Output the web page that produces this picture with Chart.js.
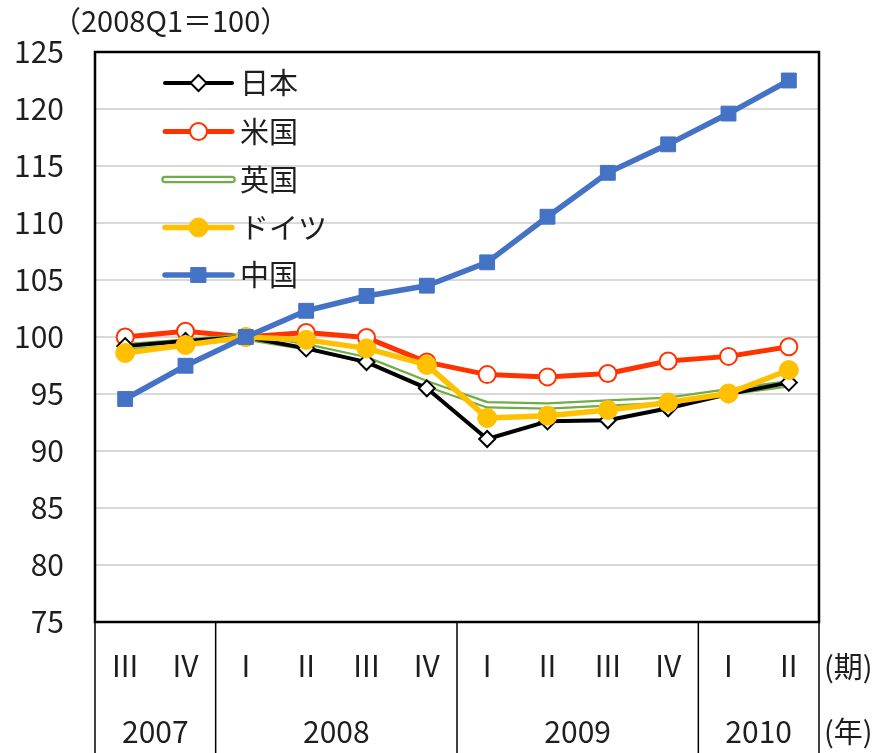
<!DOCTYPE html>
<html>
<head>
<meta charset="utf-8">
<script src="https://cdn.jsdelivr.net/npm/chart.js@4"></script>
<style>
  html, body { margin: 0; padding: 0; background: #fff; }
  canvas { display: block; }
</style>
</head>
<body>
<canvas id="chart" width="878" height="753"></canvas>
<script>
// quarters (x axis) and the year row under them
const quarters = ['III', 'IV', 'I', 'II', 'III', 'IV', 'I', 'II', 'III', 'IV', 'I', 'II'];
const years = ['2007', '2008', '2009', '2010'];
const yearSpans = [2, 4, 4, 2];

// 2008Q1 = 100
const japan   = [99.2, 99.65, 100, 99.0, 97.8, 95.5, 91.05, 92.6, 92.7, 93.75, 95.0, 96.0];
const usa     = [100.0, 100.5, 100, 100.4, 99.95, 97.8, 96.7, 96.5, 96.8, 97.9, 98.3, 99.15];
const uk      = [99.15, 99.55, 100, 99.15, 98.0, 95.9, 94.05, 93.95, 94.2, 94.45, 95.2, 95.9];
const germany = [98.6, 99.3, 100, 99.75, 99.0, 97.55, 92.9, 93.1, 93.6, 94.25, 95.05, 97.1];
const china   = [94.56, 97.48, 100, 102.3, 103.6, 104.5, 106.55, 110.55, 114.4, 116.9, 119.6, 122.5];

const yMin = 75, yMax = 125, yStep = 5;
const unitLabel = '（2008Q1＝100）';

const NUM_FONT = "'Liberation Sans Narrow', 'Noto Sans CJK JP', sans-serif";
const JP_FONT = "'Noto Sans CJK JP', sans-serif";
const TEXT = '#1e1e1e';

// legend entries, in the order shown in the picture
const legendItems = [
  { label: '日本', ds: 0 },
  { label: '米国', ds: 1 },
  { label: '英国', ds: 2, inner: 3 },
  { label: 'ドイツ', ds: 4 },
  { label: '中国', ds: 5 }
];

const framePlugin = {
  id: 'frame',
  afterDraw(chart) {
    const { ctx, chartArea: a } = chart;
    const xs = chart.scales.x;
    const H = chart.height;
    ctx.save();

    // unit label
    ctx.fillStyle = TEXT;
    ctx.font = '29px ' + NUM_FONT;
    ctx.textAlign = 'left';
    ctx.textBaseline = 'middle';
    ctx.fillText(unitLabel, 52, 21);

    // plot frame
    ctx.strokeStyle = '#000';
    ctx.lineWidth = 2.5;
    ctx.strokeRect(a.left, a.top, a.right - a.left, a.bottom - a.top);

    // year separators and year labels
    ctx.lineWidth = 1.5;
    const step = xs.getPixelForValue(1) - xs.getPixelForValue(0);
    let idx = 0;
    const edges = [a.left];
    yearSpans.forEach(n => {
      idx += n;
      edges.push(xs.getPixelForValue(idx - 1) + step / 2);
    });
    edges[edges.length - 1] = a.right;
    edges.forEach(x => {
      ctx.beginPath();
      ctx.moveTo(x, a.bottom);
      ctx.lineTo(x, H);
      ctx.stroke();
    });
    ctx.font = '30px ' + NUM_FONT;
    ctx.textAlign = 'center';
    years.forEach((y, i) => {
      ctx.fillText(y, (edges[i] + edges[i + 1]) / 2, a.bottom + 110);
    });

    // row captions
    ctx.font = '29px ' + JP_FONT;
    ctx.textAlign = 'left';
    ctx.fillText('(期)', a.right + 5, a.bottom + 45);
    ctx.fillText('(年)', a.right + 5, a.bottom + 110);

    // legend
    const lx0 = 165, lx1 = 232, mx = 198.5, tx = 240;
    const rowY = [83, 131.5, 179.5, 227.5, 275];
    legendItems.forEach((it, i) => {
      const ds = chart.data.datasets[it.ds];
      const y = rowY[i];
      ctx.lineCap = 'round';
      ctx.strokeStyle = ds.borderColor;
      ctx.lineWidth = ds.borderWidth;
      ctx.beginPath();
      ctx.moveTo(lx0, y);
      ctx.lineTo(lx1, y);
      ctx.stroke();
      if (it.inner !== undefined) {
        const ids = chart.data.datasets[it.inner];
        ctx.strokeStyle = ids.borderColor;
        ctx.lineWidth = ids.borderWidth;
        ctx.beginPath();
        ctx.moveTo(lx0, y);
        ctx.lineTo(lx1, y);
        ctx.stroke();
      }
      if (ds.pointRadius > 0) {
        ctx.fillStyle = ds.pointBackgroundColor;
        ctx.strokeStyle = ds.pointBorderColor;
        ctx.lineWidth = ds.pointBorderWidth;
        Chart.helpers.drawPoint(ctx, {
          pointStyle: ds.pointStyle, radius: ds.pointRadius,
          rotation: 0, borderWidth: ds.pointBorderWidth
        }, mx, y);
      }
      ctx.fillStyle = TEXT;
      ctx.font = '29px ' + JP_FONT;
      ctx.textAlign = 'left';
      ctx.textBaseline = 'middle';
      ctx.fillText(it.label, tx, y);
    });
    ctx.restore();
  }
};

new Chart(document.getElementById('chart'), {
  type: 'line',
  data: {
    labels: quarters,
    datasets: [
      {
        label: '日本', data: japan, order: 2,
        borderColor: '#000000', borderWidth: 4,
        pointStyle: 'rectRot', pointRadius: 8,
        pointBackgroundColor: '#ffffff', pointBorderColor: '#000000', pointBorderWidth: 2
      },
      {
        label: '米国', data: usa, order: 5,
        borderColor: '#FF3300', borderWidth: 5,
        pointStyle: 'circle', pointRadius: 8.5,
        pointBackgroundColor: '#ffffff', pointBorderColor: '#FF3300', pointBorderWidth: 2
      },
      {
        label: '英国', data: uk, order: 4,
        borderColor: '#70AD47', borderWidth: 7.5, pointRadius: 0
      },
      {
        label: '英国 inner', data: uk, order: 3,
        borderColor: '#ffffff', borderWidth: 3, pointRadius: 0
      },
      {
        label: 'ドイツ', data: germany, order: 1,
        borderColor: '#FFC000', borderWidth: 5.5,
        pointStyle: 'circle', pointRadius: 9.5,
        pointBackgroundColor: '#FFC000', pointBorderColor: '#FFC000', pointBorderWidth: 1
      },
      {
        label: '中国', data: china, order: 0,
        borderColor: '#4472C4', borderWidth: 5.5,
        pointStyle: 'rect', pointRadius: 10.5,
        pointBackgroundColor: '#4472C4', pointBorderColor: '#4472C4', pointBorderWidth: 1
      }
    ]
  },
  options: {
    responsive: false,
    animation: false,
    layout: { padding: { top: 52, right: 59, left: 0, bottom: 0 } },
    elements: { line: { tension: 0, borderCapStyle: 'round', borderJoinStyle: 'round' } },
    scales: {
      x: {
        type: 'category',
        offset: true,
        grid: { display: false, drawTicks: false },
        border: { display: false },
        ticks: {
          color: TEXT, padding: 26, maxRotation: 0, autoSkip: false,
          font: { family: NUM_FONT, size: 30 }
        },
        afterFit: s => { s.height = 131; }
      },
      y: {
        min: yMin, max: yMax,
        border: { display: false },
        grid: {
          drawTicks: false, lineWidth: 2,
          color: c => (c.tick && (c.tick.value === yMin || c.tick.value === yMax)) ? 'rgba(0,0,0,0)' : '#D9D9D9'
        },
        ticks: {
          stepSize: yStep, color: TEXT, padding: 31,
          font: { family: NUM_FONT, size: 30 }
        },
        afterFit: s => { s.width = 95; }
      }
    },
    plugins: {
      legend: { display: false },
      tooltip: { enabled: false }
    }
  },
  plugins: [framePlugin]
});
</script>
</body>
</html>
